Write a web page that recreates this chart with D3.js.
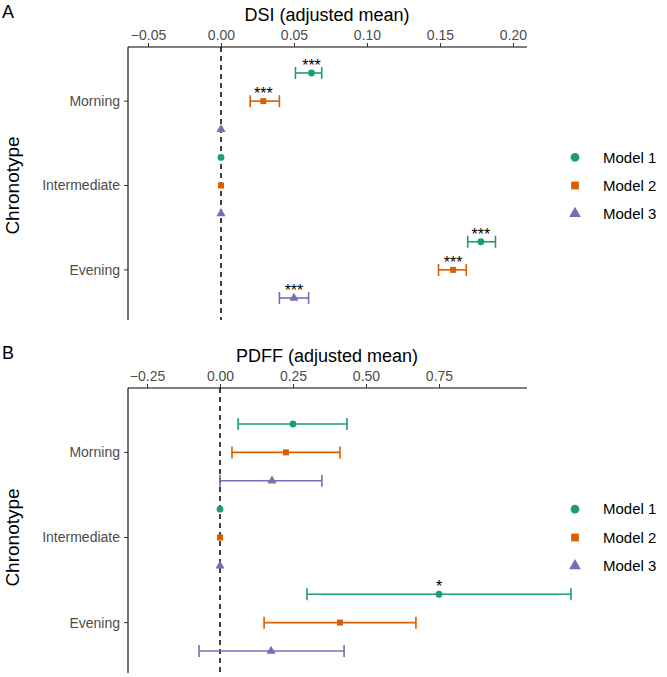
<!DOCTYPE html>
<html><head><meta charset="utf-8">
<script src="https://cdn.jsdelivr.net/npm/d3@7"></script>
<style>body{margin:0;background:#fff}text{font-family:Arial,"Liberation Sans",sans-serif}</style>
</head><body>
<svg id="chart" width="667" height="677"></svg>
<script>
// categories and models
const chronotypes = ["Morning", "Intermediate", "Evening"];
const models = ["Model 1", "Model 2", "Model 3"];
const colors = ["#1b9e77", "#d95f02", "#7570b3"];

// DSI per chronotype x model
const dsiMean = [[0.062, 0.029, 0], [0, 0, 0], [0.178, 0.159, 0.050]];
const dsiLow  = [[0.051, 0.020, 0], [0, 0, 0], [0.169, 0.149, 0.040]];
const dsiHigh = [[0.069, 0.040, 0], [0, 0, 0], [0.188, 0.168, 0.060]];
const dsiSig  = [["***", "***", ""], ["", "", ""], ["***", "***", "***"]];
const dsiTicks = [-0.05, 0, 0.05, 0.10, 0.15, 0.20];

const pdffMean = [[0.25, 0.226, 0.178], [0, 0, 0], [0.75, 0.411, 0.175]];
const pdffLow  = [[0.062, 0.041, 0], [0, 0, 0], [0.298, 0.151, -0.072]];
const pdffHigh = [[0.435, 0.411, 0.349], [0, 0, 0], [1.202, 0.671, 0.425]];
const pdffSig  = [["", "", ""], ["", "", ""], ["*", "", ""]];
const pdffTicks = [-0.25, 0, 0.25, 0.50, 0.75];

const svg = d3.select("#chart");
const shapes = [d3.symbolCircle, d3.symbolSquare, d3.symbolTriangle];

function panel(o) {
  const g = svg.append("g");
  const x = d3.scaleLinear().domain(o.domain).range([128, 527]);
  const rows = [];
  chronotypes.forEach((c, i) => models.forEach((m, j) => rows.push({c: i, m: j})));
  const y = d3.scalePoint().domain(d3.range(9)).range([o.first, o.last]);

  const ax = g.append("g").attr("transform", `translate(0,${o.top})`)
    .call(d3.axisTop(x).tickValues(o.ticks).tickFormat(d3.format(".2f")).tickSize(4).tickSizeOuter(0));
  ax.select(".domain").attr("stroke", "#000").attr("stroke-width", 1.1).attr("d", `M128,0H527`);
  ax.selectAll("text").attr("font-size", 14).attr("fill", "#4d4d4d");
  ax.selectAll("line").attr("stroke", "#333");

  g.append("line").attr("x1", 128).attr("x2", 128).attr("y1", o.top).attr("y2", o.bottom).attr("stroke", "#000").attr("stroke-width", 1.1);
  g.append("line").attr("x1", x(0)).attr("x2", x(0)).attr("y1", o.top).attr("y2", o.bottom)
    .attr("stroke", "#000").attr("stroke-width", 1.5).attr("stroke-dasharray", "5,4");

  chronotypes.forEach((c, i) => {
    const yy = y(i * 3 + 1);
    g.append("line").attr("x1", 124).attr("x2", 128).attr("y1", yy).attr("y2", yy).attr("stroke", "#333");
    g.append("text").attr("x", 120).attr("y", yy).attr("dy", "0.35em").attr("text-anchor", "end")
      .attr("font-size", 14).attr("fill", "#4d4d4d").text(c);
  });

  rows.forEach((r, k) => {
    const yy = y(k), col = colors[r.m];
    const lo = o.low[r.c][r.m], hi = o.high[r.c][r.m], mn = o.mean[r.c][r.m];
    if (hi > lo) {
      g.append("line").attr("x1", x(lo)).attr("x2", x(hi)).attr("y1", yy).attr("y2", yy).attr("stroke", col).attr("stroke-width", 1.6);
      [lo, hi].forEach(v => g.append("line").attr("x1", x(v)).attr("x2", x(v)).attr("y1", yy - 6).attr("y2", yy + 6).attr("stroke", col).attr("stroke-width", 1.6));
    }
    g.append("path").attr("transform", `translate(${x(mn)},${yy})`)
      .attr("d", d3.symbol().type(shapes[r.m]).size(36)).attr("fill", col);
    const s = o.sig[r.c][r.m];
    if (s) g.append("text").attr("x", x(mn)).attr("y", yy - 2).attr("text-anchor", "middle").attr("font-size", 16).text(s);
  });

  g.append("text").attr("x", 327).attr("y", o.top - 26).attr("text-anchor", "middle").attr("font-size", 18).text(o.title);
  g.append("text").attr("x", 2).attr("y", o.top - 29).attr("font-size", 18).text(o.label);
  g.append("text").attr("transform", `translate(19,${(o.first + o.last) / 2}) rotate(-90)`)
    .attr("text-anchor", "middle").attr("font-size", 19).text("Chronotype");

  models.forEach((m, j) => {
    const yy = y(3 + j);
    g.append("path").attr("transform", `translate(575,${yy})`)
      .attr("d", d3.symbol().type(shapes[j]).size(60)).attr("fill", colors[j]);
    g.append("text").attr("x", 603).attr("y", yy).attr("dy", "0.35em").attr("font-size", 15).text(m);
  });
}

panel({top: 47, bottom: 320, first: 73, last: 298, domain: [-0.0637, 0.2096], ticks: dsiTicks, mean: dsiMean, low: dsiLow, high: dsiHigh, sig: dsiSig, title: "DSI (adjusted mean)", label: "A"});
panel({top: 388, bottom: 673, first: 424, last: 651, domain: [-0.3151, 1.0514], ticks: pdffTicks, mean: pdffMean, low: pdffLow, high: pdffHigh, sig: pdffSig, title: "PDFF (adjusted mean)", label: "B"});
</script>
</body></html>
